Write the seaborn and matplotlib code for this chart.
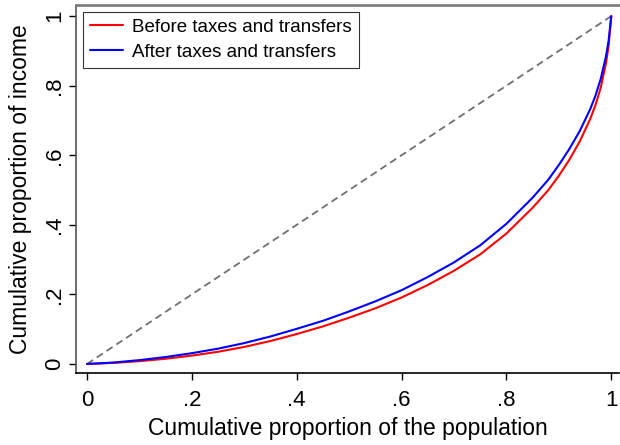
"""
Lorenz curves of income before and after taxes and transfers.
"""

import matplotlib
matplotlib.use("Agg")
import matplotlib.pyplot as plt
import seaborn as sns
import pandas as pd

# cumulative share of population (x) and of income (y)
pop_share = [0.0, 0.05, 0.10, 0.15, 0.20, 0.25, 0.30, 0.35, 0.40, 0.45,
             0.50, 0.55, 0.60, 0.65, 0.70, 0.75, 0.80, 0.85, 0.88, 0.90,
             0.92, 0.94, 0.96, 0.97, 0.98, 0.99, 0.995, 1.0]
income_before = [0.0, 0.003, 0.008, 0.015, 0.024, 0.035, 0.049, 0.066, 0.086, 0.108,
                 0.133, 0.160, 0.191, 0.227, 0.268, 0.315, 0.375, 0.449, 0.500, 0.541,
                 0.587, 0.640, 0.705, 0.745, 0.795, 0.865, 0.915, 1.0]
income_after = [0.0, 0.004, 0.011, 0.020, 0.031, 0.044, 0.060, 0.079, 0.101, 0.124,
                0.151, 0.180, 0.212, 0.250, 0.292, 0.341, 0.403, 0.478, 0.530, 0.572,
                0.618, 0.670, 0.733, 0.772, 0.820, 0.885, 0.930, 1.0]
series_names = ["Before taxes and transfers", "After taxes and transfers"]
series_colors = ["#ff0000", "#0000ff"]

df = pd.concat([
    pd.DataFrame({"pop": pop_share, "income": income_before, "series": series_names[0]}),
    pd.DataFrame({"pop": pop_share, "income": income_after, "series": series_names[1]}),
])

sns.set_style("ticks")
plt.rcParams["font.family"] = ["Liberation Sans", "DejaVu Sans"]
plt.rcParams["text.color"] = "black"
plt.rcParams["axes.labelcolor"] = "black"
plt.rcParams["xtick.color"] = "black"
plt.rcParams["ytick.color"] = "black"

fig = plt.figure(figsize=(6.2, 4.45), dpi=100)
ax = fig.add_axes([0.1226, 0.1618, 0.876, 0.827])

# line of perfect equality
ax.plot([0, 1], [0, 1], color="#707070", linestyle=(0, (4, 2.5)), linewidth=1.3)
sns.lineplot(data=df, x="pop", y="income", hue="series", sort=False,
             palette=dict(zip(series_names, series_colors)), linewidth=1.5,
             estimator=None, ax=ax)

ax.set_xlim(-0.021, 1.015)
ax.set_ylim(-0.026, 1.032)
ticks = [0, 0.2, 0.4, 0.6, 0.8, 1]
tick_labels = ["0", ".2", ".4", ".6", ".8", "1"]
ax.set_xticks(ticks)
ax.set_xticklabels(tick_labels)
ax.set_yticks(ticks)
ax.set_yticklabels(tick_labels, rotation=90, va="center")
ax.tick_params(axis="both", length=5, width=1, color="black", labelcolor="black",
               labelsize=16)
ax.tick_params(axis="x", pad=7)
ax.tick_params(axis="y", pad=3)

ax.set_xlabel("Cumulative proportion of the population", fontsize=16.5, labelpad=4.5)
ax.set_ylabel("Cumulative proportion of income", fontsize=16.5, labelpad=8.6)

ax.spines["top"].set_visible(True)
ax.spines["top"].set_color("#7f7f7f")
ax.spines["top"].set_linewidth(2)
ax.spines["right"].set_visible(False)
ax.spines["left"].set_color("#555555")
ax.spines["left"].set_linewidth(1.2)
ax.spines["bottom"].set_color("black")
ax.spines["bottom"].set_linewidth(1.2)

leg = ax.legend(loc="upper left", fontsize=13.5, frameon=True, fancybox=False,
                edgecolor="black", borderaxespad=0.35, borderpad=0.39,
                handlelength=1.75, handletextpad=0.5, labelspacing=0.41)
leg.get_frame().set_linewidth(0.8)

fig.savefig("out.png", dpi=100)
